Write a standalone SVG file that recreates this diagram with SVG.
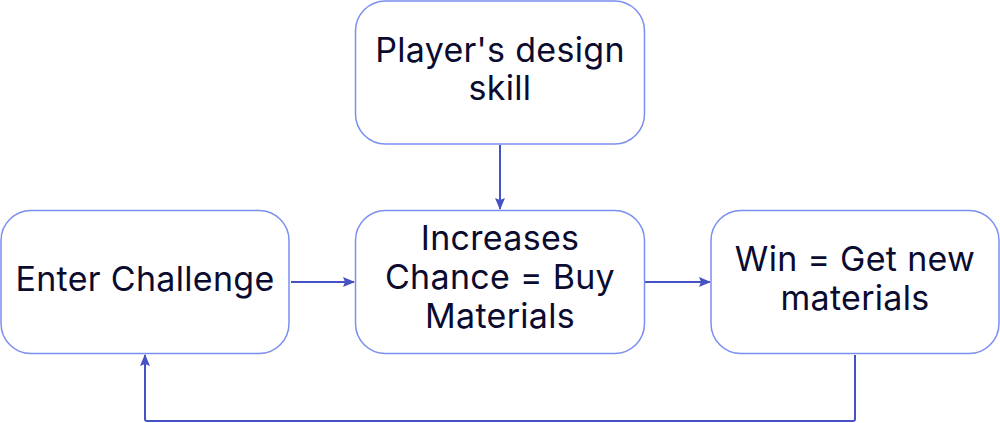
<svg xmlns="http://www.w3.org/2000/svg" width="1000" height="423" viewBox="0 0 1000 423">
<style>
.box{fill:#fff;stroke:#7b8ff0;stroke-width:1.5}
.t{font-family:Inter,"Noto Sans",sans-serif;font-size:34px;letter-spacing:0.3px;fill:#0b0b30;text-anchor:middle}
.c{fill:none;stroke:#4652c4;stroke-width:2}
</style>
<defs>
<marker id="ah" viewBox="0 0 12 10" refX="11" refY="5" markerWidth="12" markerHeight="10" orient="auto" markerUnits="userSpaceOnUse" overflow="visible">
<path d="M0,0 L12,5 L0,10 L2,5 z" fill="#4652c4"/>
</marker>
</defs>
<rect width="1000" height="423" fill="#fff"/>
<g id="connectors">
<path class="c" d="M500,145 V209" marker-end="url(#ah)"/>
<path class="c" d="M291,282 H354" marker-end="url(#ah)"/>
<path class="c" d="M645,282 H710" marker-end="url(#ah)"/>
<path class="c" d="M855,355 V419 Q855,421 853,421 H147 Q145,421 145,419 V355" marker-end="url(#ah)"/>
</g>
<g id="node-skill">
<rect class="box" x="355.5" y="1" width="289" height="143" rx="30"/>
<text class="t" x="500" y="62">Player's design</text>
<text class="t" x="500" y="100">skill</text>
</g>
<g id="node-enter">
<rect class="box" x="1" y="210.5" width="288" height="143" rx="30"/>
<text class="t" x="145" y="291">Enter Challenge</text>
</g>
<g id="node-increase">
<rect class="box" x="355.5" y="210.5" width="289" height="143" rx="30"/>
<text class="t" x="500" y="250">Increases</text>
<text class="t" x="500" y="289">Chance = Buy</text>
<text class="t" x="500" y="328">Materials</text>
</g>
<g id="node-win">
<rect class="box" x="711" y="210.5" width="288" height="143" rx="30"/>
<text class="t" x="855" y="271">Win = Get new</text>
<text class="t" x="855" y="310">materials</text>
</g>
</svg>
